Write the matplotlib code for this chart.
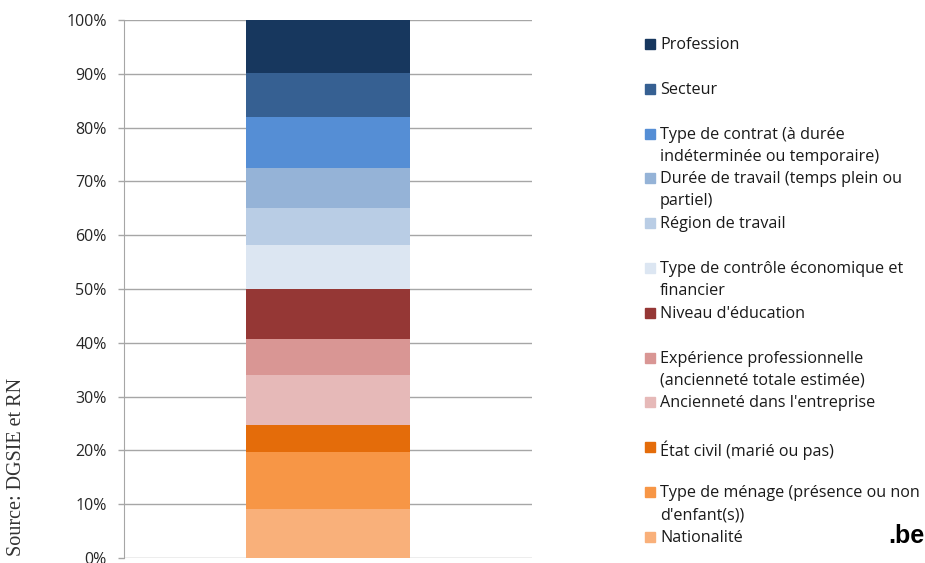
import matplotlib.pyplot as plt
from matplotlib.patches import Rectangle

# data, bottom of the stack first
labels = [
    "Nationalité",
    "Type de ménage (présence ou non\nd'enfant(s))",
    "État civil (marié ou pas)",
    "Ancienneté dans l'entreprise",
    "Expérience professionnelle\n(ancienneté totale estimée)",
    "Niveau d'éducation",
    "Type de contrôle économique et\nfinancier",
    "Région de travail",
    "Durée de travail (temps plein ou\npartiel)",
    "Type de contrat (à durée\nindéterminée ou temporaire)",
    "Secteur",
    "Profession",
]
shares = [9.1, 10.6, 5.0, 9.3, 6.7, 9.3, 8.2, 6.9, 7.4, 9.5, 8.1, 9.9]
colors = ["#F9B07A", "#F79646", "#E46C0A", "#E6B9B8", "#D99694", "#953735",
          "#DCE6F2", "#B9CDE5", "#95B3D7", "#558ED5", "#366092", "#17375E"]
yticks = [0, 10, 20, 30, 40, 50, 60, 70, 80, 90, 100]
ytick_labels = [f"{v}%" for v in yticks]

W, H = 925, 563
fig = plt.figure(figsize=(W / 100, H / 100), dpi=100)
ax = fig.add_axes([124 / W, 1 - 558 / H, (532 - 124) / W, (558 - 20) / H])

bottom = 0
for s, c in zip(shares, colors):
    ax.bar(0, s, bottom=bottom, width=0.4, color=c, zorder=3)
    bottom += s

ax.set_xlim(-0.5, 0.5)
ax.set_ylim(0, 100)
ax.set_xticks([])
ax.set_yticks(yticks)
ax.set_yticklabels(ytick_labels, fontsize=11.5, color="#262626", family="Open Sans")
ax.tick_params(axis="y", length=4.5, width=1, color="#a6a6a6", pad=8)
ax.yaxis.grid(True, color="#a6a6a6", linewidth=1, zorder=0)
for side in ["top", "right", "bottom"]:
    ax.spines[side].set_visible(False)
ax.spines["left"].set_color("#a6a6a6")

# legend, drawn by hand to keep Excel-like slots
for i, (lab, c) in enumerate(zip(labels[::-1], colors[::-1])):
    yc = 44 + i * 44.8
    fig.patches.append(Rectangle((645 / W, 1 - (yc + 5) / H), 10 / W, 10 / H,
                                 transform=fig.transFigure, color=c))
    fig.text(660 / W, 1 - (yc - 7) / H, lab, fontsize=11.6, family="Open Sans",
             color="#1a1a1a", va="top", ha="left", linespacing=1.5)

fig.text(17 / W, 1 - 467 / H, "Source: DGSIE et RN", rotation=90, fontsize=14.5,
         family="Liberation Serif", color="#333333", ha="center", va="center")
fig.text(906 / W, 1 - 536 / H, ".be", fontsize=18, fontweight="bold",
         family="Liberation Sans", color="black", ha="center", va="center")

fig.savefig("out.png", dpi=100)
